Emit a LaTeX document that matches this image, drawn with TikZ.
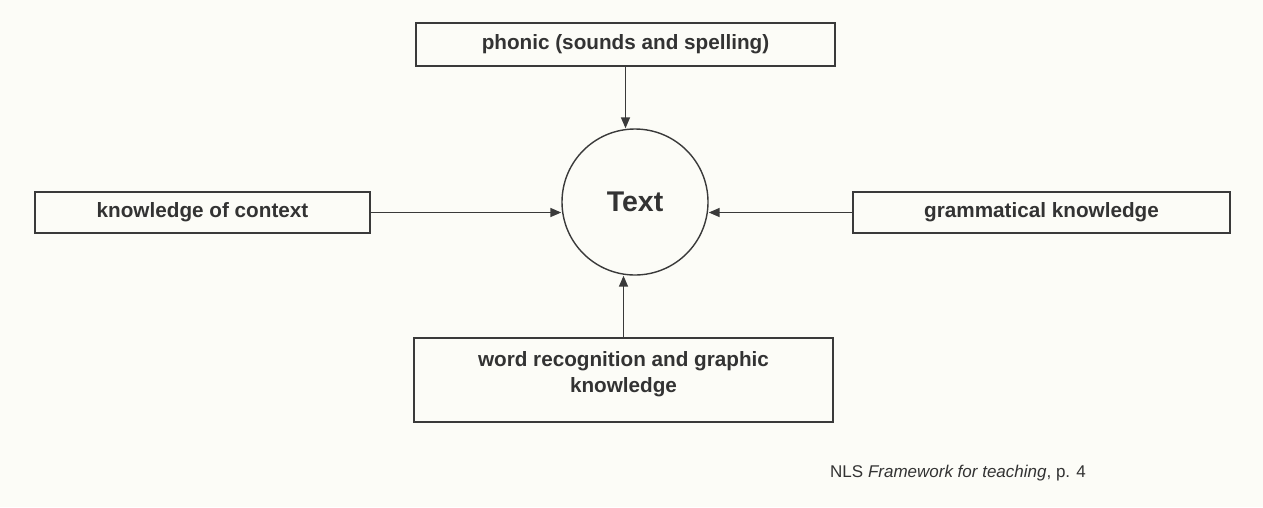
\documentclass[tikz,border=0pt]{standalone}
\usepackage{fontspec}
\setmainfont{Liberation Sans}
\usetikzlibrary{arrows.meta}
\definecolor{inkc}{HTML}{333333}
\definecolor{linec}{HTML}{3A3A3A}
\definecolor{paperc}{HTML}{FCFCF7}
\tikzset{
  box/.style={draw=linec, line width=1.4pt, rectangle, inner sep=0pt, text=inkc,
    font=\fontsize{20.7}{26}\selectfont\bfseries},
  txt/.style={inner sep=0pt, text=inkc, font=\fontsize{20.7}{26}\selectfont\bfseries},
  conn/.style={draw=linec, line width=1.5pt, -{Triangle[length=11pt,width=9pt]}},
}
\begin{document}
\begin{tikzpicture}[x=1pt,y=-1pt]
\fill[paperc] (0,0) rectangle (1263,507);
\useasboundingbox (0,0) rectangle (1263,507);
\node (c) [circle, draw=linec, line width=1.4pt, minimum size=146pt, inner sep=0pt,
  text=inkc, font=\fontsize{28.5}{32}\selectfont\bfseries] at (635,202) {Text};
\node (top) [box, minimum width=419pt, minimum height=43pt] at (625.5,44.5) {phonic (sounds and spelling)};
\node (left) [box, minimum width=335pt, minimum height=41pt] at (202.5,212.5) {knowledge of context};
\node (right) [box, minimum width=377pt, minimum height=41pt] at (1041.5,212.5) {grammatical knowledge};
\node (bottom) [box, minimum width=419pt, minimum height=84pt] at (623.5,380) {};
\node (bottomtxt) [txt, align=center] at (623.5,374) {word recognition and graphic\\knowledge};
\node (caption) [inner sep=0pt, anchor=base west, text=inkc, font=\fontsize{17}{20}\selectfont]
  at (830,477) {NLS \textit{Framework for teaching}, p. 4};
\draw[conn] (top.south) -- (top.south |- c.north);
\draw[conn] (bottom.north) -- (bottom.north |- c.south);
\draw[conn] (left.east) -- (left.east -| c.west);
\draw[conn] (right.west) -- (right.west -| c.east);
\end{tikzpicture}
\end{document}
